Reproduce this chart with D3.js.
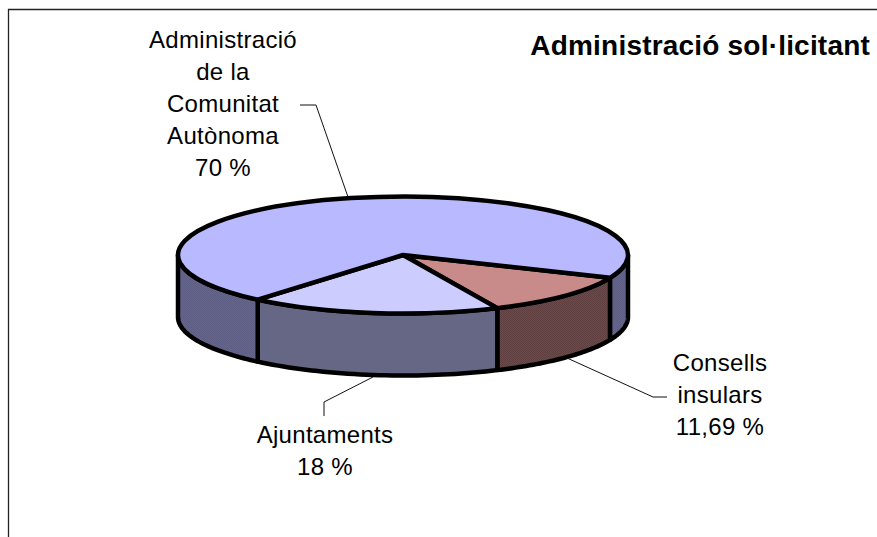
<!DOCTYPE html>
<html><head><meta charset="utf-8">
<script src="https://cdn.jsdelivr.net/npm/d3@7"></script>
<style>
html,body{margin:0;padding:0;background:#fff;overflow:hidden}
text{font-family:"Liberation Sans",Arial,sans-serif;fill:#000}
</style></head><body>
<svg id="c" width="877" height="537"></svg>
<script>
const categories = ["Consells insulars","Ajuntaments","Administració de la Comunitat Autònoma"];
const values = [11.69,18,70];
const valueLabels = ["11,69 %","18 %","70 %"];
const topColors = [["#d59a9a","#bd7a7a"],["#ccccff","#ccccff"],["#bfbfff","#b3b3ff"]];
const sideColors = [["#6e4a4a","#5e3e3e"],["#666685","#666685"],["#66668c","#5e5e84"]];
const labelLines = [["Consells","insulars","11,69 %"],["Ajuntaments","18 %"],["Administració","de la","Comunitat","Autònoma","70 %"]];
const labelPos = [[720,371],[325,443],[223,48]];
const leaders = [[[567,358],[653,397],[667,397]],[[373,377],[324,402],[324,416]],[[348,197],[316,105],[300,105]]];
const title = "Administració sol·licitant";

const cx=403,cy=255,rx=225,ry=58.5,depth=62,sw=4.5;
const svg=d3.select("#c");
const defs=svg.append("defs");
function dither(id,[a,b]){
  const p=defs.append("pattern").attr("id",id).attr("width",2).attr("height",2).attr("patternUnits","userSpaceOnUse");
  p.append("rect").attr("width",2).attr("height",2).attr("fill",a);
  p.selectAll("rect.b").data([[0,0],[1,1]]).join("rect").attr("class","b")
   .attr("x",d=>d[0]).attr("y",d=>d[1]).attr("width",1).attr("height",1).attr("fill",b);
  return `url(#${id})`;
}
const topFill=topColors.map((c,i)=>dither("t"+i,c));
const sideFill=sideColors.map((c,i)=>dither("s"+i,c));

svg.append("path").attr("d",d3.line()([[8.5,537],[8.5,9.5],[877,9.5]])).attr("fill","none").attr("stroke","#222").attr("stroke-width",1.3);

const deg=Math.PI/180;
const pie=d3.pie().sort(null).startAngle(113*deg).endAngle(473*deg);
const arcs=pie(values);
const pt=(a,dy=0)=>[cx+rx*Math.sin(a),cy-ry*Math.cos(a)+dy];
const line=d3.line();
function wall(a0,a1){
  const s=d3.range(0,41).map(i=>a0+(a1-a0)*i/40);
  return line([...s.map(a=>pt(a)),...s.reverse().map(a=>pt(a,depth))])+"Z";
}
const lo=90*deg,hi=270*deg;
const walls=[];
arcs.forEach((d,i)=>{
  [[d.startAngle,d.endAngle],[d.startAngle-2*Math.PI,d.endAngle-2*Math.PI]].forEach(([a,b])=>{
    const p=Math.max(a,lo),q=Math.min(b,hi);
    if(q>p) walls.push({i,p,q});
  });
});
const g=svg.append("g").attr("stroke","#000").attr("stroke-width",sw).attr("stroke-linejoin","round");
g.selectAll("path.w").data(walls).join("path").attr("class","w")
 .attr("d",d=>wall(d.p,d.q)).attr("fill",d=>sideFill[d.i]);
const arcGen=d3.arc().innerRadius(0).outerRadius(rx);
const topG=g.append("g").attr("transform",`translate(${cx},${cy}) scale(1,${ry/rx})`);
topG.selectAll("path").data(arcs).join("path")
 .attr("d",arcGen).attr("fill",(d,i)=>topFill[i]).attr("vector-effect","non-scaling-stroke");

svg.append("g").attr("fill","none").attr("stroke","#111").attr("stroke-width",1)
 .selectAll("path").data(leaders).join("path").attr("d",d=>line(d));

labelLines.forEach((ls,i)=>{
  const t=svg.append("text").attr("text-anchor","middle").attr("font-size",24).attr("letter-spacing",0.3);
  ls.forEach((l,j)=>t.append("tspan").attr("x",labelPos[i][0]).attr("y",labelPos[i][1]+j*32).text(l));
});
svg.append("text").attr("x",870).attr("y",55).attr("text-anchor","end").attr("font-size",28).attr("font-weight","bold").attr("letter-spacing",0.2).text(title);
</script></body></html>
